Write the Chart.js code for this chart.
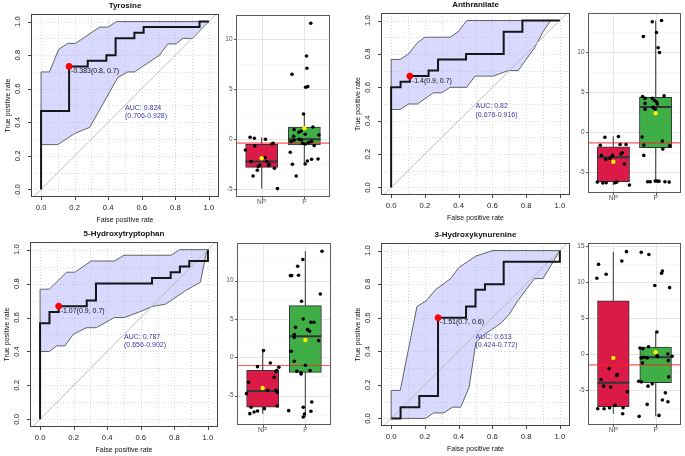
<!DOCTYPE html>
<html><head><meta charset="utf-8">
<script src="https://cdn.jsdelivr.net/npm/chart.js@4.4.0/dist/chart.umd.min.js"></script>
<style>
html,body{margin:0;padding:0;background:#fff;}
#wrap{position:relative;width:685px;height:456px;overflow:hidden;background:#fff;}
canvas{position:absolute;}
</style></head>
<body><div id="wrap"></div>
<script>
// ---------------- DATA ----------------
const titles = ['Tyrosine', 'Anthranilate', '5-Hydroxytryptophan', '3-Hydroxykynurenine'];
const groups = ['NP', 'P'];
const rocTicks = [0, 0.2, 0.4, 0.6, 0.8, 1];
const rocTickLabels = ['0.0', '0.2', '0.4', '0.6', '0.8', '1.0'];
const rocGridVals = [0, 0.1, 0.2, 0.3, 0.4, 0.5, 0.6, 0.7, 0.8, 0.9, 1];
const diagEnds = [-0.2, 1.2];

// Tyrosine
const tyrFpr = [0, 0, 0.167, 0.167, 0.278, 0.278, 0.389, 0.389, 0.444, 0.444, 0.556, 0.556, 0.611, 0.611, 0.944, 0.944, 1];
const tyrTpr = [0, 0.467, 0.467, 0.733, 0.733, 0.767, 0.767, 0.8, 0.8, 0.9, 0.9, 0.933, 0.933, 0.967, 0.967, 1, 1];
const tyrBandX = [0, 0.05, 0.105, 0.159, 0.205, 0.348, 0.398, 0.451, 1, 0.944, 0.905, 0.845, 0.805, 0.755, 0.706, 0.646, 0.557, 0.517, 0.457, 0.29, 0.2, 0.1, 0];
const tyrBandY = [0.7, 0.7, 0.835, 0.87, 0.87, 0.967, 0.967, 1, 1, 0.944, 0.9, 0.9, 0.867, 0.867, 0.8, 0.76, 0.7, 0.7, 0.667, 0.37, 0.333, 0.267, 0.267];
const tyrCut = [0.167, 0.733];
const tyrCutLabel = '-0.383(0.8, 0.7)';
const tyrAuc = ['AUC: 0.824', '(0.706-0.928)'];
const tyrNPy = [-1.07, 0.2, 0.1, -0.67, -2.23, -3.67, -3.1, -2.73, 0.0, -1.83, -2.23, -2.63, -2.5, -0.47, -0.4, -2.9, -4.93, -2.57];
const tyrNPj = [-0.38, -0.27, -0.17, -0.16, -0.25, -0.2, -0.1, -0.08, 0.09, 0.08, 0.12, 0.16, 0.18, 0.24, 0.27, 0.3, 0.37, -0.04];
const tyrPy = [11.6, 7.1, 6.5, 8.33, 5.2, 5.27, 2.53, 1.23, 0.97, -1.3, 0.3, 0.7, 0.83, 0.5, 0.0, -0.07, -0.4, -0.47, -0.33, -0.23, -0.63, 0.43, -0.23, -2.5, -3.67, -2.47, -2.17, -2.0, -1.97, -0.1];
const tyrPj = [0.15, 0.06, -0.29, 0.05, 0.03, 0.08, -0.02, 0.2, -0.24, -0.33, -0.25, -0.13, -0.07, 0.02, -0.12, -0.07, -0.04, 0.02, 0.1, 0.17, 0.23, 0.34, -0.31, -0.28, -0.19, 0.02, 0.07, 0.17, 0.32, -0.24];
// [lower whisker, q1, median, q3, upper whisker, mean]
const tyrBoxNP = [-4.93, -2.8, -2.23, -0.5, 0.2, -1.9];
const tyrBoxP = [-2.5, -0.57, 0.0, 1.23, 2.53, 1.1];
const tyrThr = -0.383;
const tyrYRange = [-5.77, 12.43];

// Anthranilate
const antFpr = [0, 0, 0.056, 0.056, 0.111, 0.111, 0.222, 0.222, 0.278, 0.278, 0.444, 0.444, 0.667, 0.667, 0.778, 0.778, 1];
const antTpr = [0, 0.6, 0.6, 0.633, 0.633, 0.667, 0.667, 0.7, 0.7, 0.767, 0.767, 0.8, 0.8, 0.933, 0.933, 1, 1];
const antBandX = [0, 0.053, 0.103, 0.156, 0.2, 0.349, 0.398, 0.448, 1, 0.945, 0.9, 0.852, 0.753, 0.694, 0.606, 0.497, 0.448, 0.349, 0.3, 0.25, 0.156, 0.103, 0.053, 0];
const antBandY = [0.767, 0.767, 0.8, 0.867, 0.9, 0.9, 0.933, 1, 1, 1, 0.933, 0.84, 0.7, 0.7, 0.667, 0.667, 0.6, 0.6, 0.567, 0.567, 0.5, 0.5, 0.467, 0.467];
const antCut = [0.111, 0.667];
const antCutLabel = '-1.4(0.9, 0.7)';
const antAuc = ['AUC: 0.82', '(0.676-0.916)'];
const antNPy = [-0.7, -0.6, -1.7, -1.6, -1.6, -2.96, -3.46, -3.33, -2.63, -2.8, -4.04, -6.3, -6.4, -6.38, -6.38, -6.3, -6.67, -2.96];
const antNPj = [-0.2, 0.12, -0.31, 0.16, 0.3, -0.28, -0.18, -0.08, 0.21, 0.18, 0.26, -0.38, -0.25, -0.17, 0.04, 0.08, 0.38, -0.02];
const antPy = [13.75, 13.9, 12.4, 11.9, 10.5, 9.9, 4.4, 4.17, 4.17, 4.5, 3.54, 3.9, 3.75, 3.46, 3.04, 2.8, 2.8, -0.67, -1.67, -2.96, -1.17, -2.17, -1.75, -6.25, -6.25, -6.17, -6.17, -6.2, -6.25, -6.3];
const antPj = [-0.08, 0.14, 0.02, -0.29, 0.06, 0.09, -0.31, -0.25, -0.08, 0.2, -0.25, -0.03, 0.02, 0.04, -0.06, -0.25, -0.01, -0.32, -0.28, -0.28, 0.16, 0.17, 0.33, -0.19, -0.13, -0.01, 0.04, 0.08, 0.22, 0.32];
const antBoxNP = [-6.67, -6.25, -3.2, -1.875, -0.6, -3.75];
const antBoxP = [-6.3, -2.0, 3.1, 4.3, 13.9, 2.3];
const antThr = -1.4;
const antYRange = [-7.66, 14.84];

// 5-Hydroxytryptophan
const htpFpr = [0, 0, 0.056, 0.056, 0.111, 0.111, 0.278, 0.278, 0.333, 0.333, 0.667, 0.667, 0.778, 0.778, 0.833, 0.833, 0.889, 0.889, 1, 1];
const htpTpr = [0, 0.567, 0.567, 0.633, 0.633, 0.667, 0.667, 0.7, 0.7, 0.8, 0.8, 0.833, 0.833, 0.867, 0.867, 0.9, 0.9, 0.933, 0.933, 1];
const htpBandX = [0, 0.055, 0.108, 0.157, 0.207, 0.305, 0.443, 0.5, 0.78, 0.83, 1, 0.99, 0.955, 0.866, 0.748, 0.669, 0.591, 0.502, 0.443, 0.335, 0.276, 0.197, 0.148, 0.098, 0.055, 0];
const htpBandY = [0.767, 0.767, 0.818, 0.867, 0.867, 0.933, 0.933, 0.967, 0.967, 1, 1, 0.98, 0.808, 0.758, 0.679, 0.665, 0.633, 0.6, 0.6, 0.54, 0.54, 0.5, 0.433, 0.433, 0.4, 0.4];
const htpCut = [0.111, 0.667];
const htpCutLabel = '-1.07(0.9, 0.7)';
const htpAuc = ['AUC: 0.787', '(0.656-0.902)'];
const htpNPy = [0.87, -0.74, -1.22, -1.3, -1.74, -1.9, -2.6, -3.26, -4.74, -4.3, -4.3, -4.57, -6.35, -6.52, -7.0, -7.13, -7.35, -6.7];
const htpNPj = [0.02, 0.18, -0.12, 0.38, 0.33, 0.31, 0.27, -0.33, -0.38, 0.12, 0.31, 0.34, 0.34, -0.27, -0.12, -0.2, -0.3, 0.04];
const htpPy = [13.83, 12.74, 11.87, 10.7, 10.65, 10.65, 8.26, 7.3, 5.0, 4.57, 4.57, 3.9, 3.6, 3.4, 2.96, 2.6, 2.17, 0.78, -0.52, -1.04, -1.83, -2.04, -2.17, -1.74, -6.96, -6.52, -7.4, -7.78, -7.04, -5.83];
const htpPj = [0.39, -0.06, -0.18, -0.16, -0.35, -0.32, 0.35, -0.09, -0.05, 0.13, 0.2, -0.23, 0.05, 0.1, -0.26, -0.26, 0.31, -0.33, -0.26, 0.0, -0.2, -0.1, -0.1, 0.11, -0.39, -0.05, -0.02, -0.05, 0.13, 0.15];
const htpBoxNP = [-7.35, -6.5, -4.4, -1.7, 0.87, -4.0];
const htpBoxP = [-7.78, -1.96, 2.74, 6.74, 13.83, 2.26];
const htpThr = -1.07;
const htpYRange = [-8.83, 14.9];

// 3-Hydroxykynurenine
const hkFpr = [0, 0.056, 0.056, 0.167, 0.167, 0.278, 0.278, 0.444, 0.444, 0.5, 0.5, 0.556, 0.556, 0.667, 0.667, 1, 1];
const hkTpr = [0, 0, 0.067, 0.067, 0.133, 0.133, 0.6, 0.6, 0.667, 0.667, 0.767, 0.767, 0.8, 0.8, 0.933, 0.933, 1];
const hkBandX = [0, 0.054, 0.153, 0.207, 0.263, 0.353, 0.402, 0.452, 0.502, 0.602, 1, 0.96, 0.9, 0.85, 0.8, 0.75, 0.701, 0.651, 0.602, 0.552, 0.502, 0.462, 0.412, 0.363, 0.313, 0.253, 0.203, 0];
const hkBandY = [0.167, 0.167, 0.667, 0.7, 0.767, 0.833, 0.9, 0.933, 0.967, 1, 1, 0.933, 0.833, 0.833, 0.767, 0.7, 0.622, 0.567, 0.533, 0.5, 0.453, 0.185, 0.067, 0.067, 0.033, 0.033, 0, 0];
const hkCut = [0.278, 0.6];
const hkCutLabel = '-1.51(0.7, 0.6)';
const hkAuc = ['AUC: 0.613', '(0.424-0.772)'];
const hkNPy = [14.2, 12.9, 12.44, 11.06, 10.5, -2.03, -2.86, -3.0, -3.55, -4.47, -4.6, -5.25, -7.14, -7.47, -7.6, -7.6, -7.47, -8.3];
const hkNPj = [0.31, 0.2, -0.35, -0.17, -0.39, -0.1, 0.09, 0.08, -0.29, -0.23, -0.06, 0.33, 0.04, 0.23, -0.37, -0.22, -0.09, 0.22];
const hkPy = [14.1, 13.8, 11.5, 11.2, 9.5, 9.2, 3.04, 1.0, 0.83, 0.74, -0.55, -1.24, -0.55, -0.23, 0.0, -0.32, -0.92, -3.18, -3.78, -3.87, -4.15, -4.47, -5.4, -6.64, -6.4, -7.0, -8.53, -8.66, -0.37, -0.46];
const hkPj = [-0.34, -0.16, 0.16, 0.14, -0.02, 0.33, 0.03, -0.17, -0.37, -0.3, -0.34, -0.31, -0.2, 0.03, 0.29, 0.39, 0.3, 0.31, -0.4, -0.34, -0.08, -0.18, 0.23, 0.29, 0.16, -0.2, 0.08, -0.39, 0.05, -0.28];
const hkBoxNP = [-8.3, -7.33, -4.0, 7.37, 14.2, -0.55];
const hkBoxP = [-8.66, -4.0, -0.46, 0.97, 3.04, 0.23];
const hkThr = -1.51;
const hkYRange = [-9.86, 15.4];

const bpTicks4 = [-5, 0, 5, 10];
const bpTickLabels4 = ['-5', '0', '5', '10'];
const bpMinor4 = [-7.5, -2.5, 2.5, 7.5, 12.5];
const bpTicks5 = [-5, 0, 5, 10, 15];
const bpTickLabels5 = ['-5', '0', '5', '10', '15'];
const bpMinor5 = [-7.5, -2.5, 2.5, 7.5, 12.5];

// ---------------- RENDERING ----------------
const FONT = '"Liberation Sans", Arial, Helvetica, sans-serif';
const FRAMES = {};

const framePlugin = {
  id: 'frame',
  beforeDatasetsDraw(chart) {
    const f = FRAMES[chart.canvas.id]; if (!f) return;
    const ctx = chart.ctx, a = chart.chartArea, sx = chart.scales.x, sy = chart.scales.y;
    ctx.save();
    for (const g of f.grids) {
      ctx.strokeStyle = g.color; ctx.lineWidth = g.width; ctx.setLineDash(g.dash || []);
      ctx.beginPath();
      for (const v of (g.x || [])) {
        if (v < sx.min || v > sx.max) continue;
        const p = Math.round(sx.getPixelForValue(v)) + 0.5; ctx.moveTo(p, a.top); ctx.lineTo(p, a.bottom);
      }
      for (const v of (g.y || [])) {
        if (v < sy.min || v > sy.max) continue;
        const p = Math.round(sy.getPixelForValue(v)) + 0.5; ctx.moveTo(a.left, p); ctx.lineTo(a.right, p);
      }
      ctx.stroke();
    }
    ctx.restore();
  },
  afterDatasetsDraw(chart) {
    const f = FRAMES[chart.canvas.id]; if (!f) return;
    const ctx = chart.ctx, a = chart.chartArea, sx = chart.scales.x, sy = chart.scales.y;
    ctx.save();
    ctx.textBaseline = 'middle';
    for (const t of (f.texts || [])) {
      ctx.font = t.font; ctx.fillStyle = t.color; ctx.textAlign = 'left';
      ctx.fillText(t.text, sx.getPixelForValue(t.x) + t.dx, sy.getPixelForValue(t.y) + t.dy);
    }
    // border
    ctx.setLineDash([]);
    ctx.strokeStyle = f.borderColor; ctx.lineWidth = 1;
    ctx.strokeRect(a.left + 0.5, a.top + 0.5, a.right - a.left - 1, a.bottom - a.top - 1);
    // tick marks
    ctx.strokeStyle = f.tickColor; ctx.beginPath();
    f.xTicks.forEach(v => { const p = Math.round(sx.getPixelForValue(v)) + 0.5; ctx.moveTo(p, a.bottom); ctx.lineTo(p, a.bottom + f.tickLen); });
    f.yTicks.forEach(v => { const p = Math.round(sy.getPixelForValue(v)) + 0.5; ctx.moveTo(a.left, p); ctx.lineTo(a.left - f.tickLen, p); });
    ctx.stroke();
    // tick labels
    ctx.fillStyle = f.labelColor; ctx.font = f.tickFont; ctx.textAlign = 'center';
    f.xTicks.forEach((v, i) => ctx.fillText(f.xLabels[i], sx.getPixelForValue(v), a.bottom + f.xLabelOff));
    f.yTicks.forEach((v, i) => {
      const p = sy.getPixelForValue(v);
      if (f.yRotate) {
        ctx.save(); ctx.translate(a.left - f.yLabelOff, p); ctx.rotate(-Math.PI / 2);
        ctx.textAlign = 'center'; ctx.fillText(f.yLabels[i], 0, 0); ctx.restore();
      } else {
        ctx.textAlign = 'right'; ctx.fillText(f.yLabels[i], a.left - f.yLabelOff, p);
      }
    });
    ctx.fillStyle = '#111';
    if (f.xTitle) {
      ctx.font = f.axisFont; ctx.textAlign = 'center';
      ctx.fillText(f.xTitle, (a.left + a.right) / 2, a.bottom + f.xTitleOff);
    }
    if (f.yTitle) {
      ctx.save(); ctx.font = f.axisFont; ctx.translate(a.left - f.yTitleOff, (a.top + a.bottom) / 2);
      ctx.rotate(-Math.PI / 2); ctx.textAlign = 'center'; ctx.fillText(f.yTitle, 0, 0); ctx.restore();
    }
    if (f.title) {
      ctx.font = f.titleFont; ctx.textAlign = 'center';
      ctx.fillText(f.title, (a.left + a.right) / 2, a.top - f.titleOff);
    }
    ctx.restore();
  }
};
Chart.register(framePlugin);

function makeCanvas(id, r) {
  const c = document.createElement('canvas');
  c.id = id; c.width = r[2]; c.height = r[3];
  c.style.left = r[0] + 'px'; c.style.top = r[1] + 'px';
  c.style.width = r[2] + 'px'; c.style.height = r[3] + 'px';
  document.getElementById('wrap').appendChild(c);
  return c;
}
function padOf(cv, box) {
  return { left: box[0] - cv[0], top: box[1] - cv[1], right: cv[0] + cv[2] - box[2], bottom: cv[1] + cv[3] - box[3] };
}
const zip = (xs, ys) => xs.map((x, i) => ({ x: x, y: ys[i] }));

function rocChart(id, cv, box, p) {
  const canvas = makeCanvas(id, cv);
  const band = zip(p.bandX, p.bandY); band.push(band[0]);
  FRAMES[id] = {
    grids: [{ color: '#d8d8d8', width: 1, dash: [1, 2], x: rocGridVals, y: rocGridVals }],
    texts: [
      { text: p.cutLabel, x: p.cut[0], y: p.cut[1], dx: 2, dy: 4.5, color: '#111', font: '7px ' + FONT },
      { text: p.auc[0], x: 0.5, y: 0.485, dx: 0, dy: 0, color: '#3a3aa8', font: '7px ' + FONT },
      { text: p.auc[1], x: 0.5, y: 0.435, dx: 0, dy: 0, color: '#3a3aa8', font: '7px ' + FONT }
    ],
    borderColor: '#444', tickColor: '#444', tickLen: 3,
    xTicks: rocTicks, xLabels: rocTickLabels, yTicks: rocTicks, yLabels: rocTickLabels,
    yRotate: true, labelColor: '#222', tickFont: '7.7px ' + FONT,
    xLabelOff: 10.7, yLabelOff: 12.7,
    axisFont: '7px ' + FONT, xTitle: 'False positive rate', yTitle: 'True positive rate',
    xTitleOff: 23.5, yTitleOff: 22.5,
    title: p.title, titleFont: 'bold 8px ' + FONT, titleOff: 8
  };
  new Chart(canvas, {
    type: 'scatter',
    data: { datasets: [
      { type: 'line', data: band, fill: 'shape', backgroundColor: 'rgba(170,170,255,0.45)', borderColor: '#555', borderWidth: 0.9, pointRadius: 0, tension: 0, order: 4 },
      { type: 'line', data: zip(diagEnds, diagEnds), borderColor: '#bdbdbd', borderWidth: 1, pointRadius: 0, fill: false, order: 3 },
      { type: 'line', data: zip(p.fpr, p.tpr), borderColor: '#151515', borderWidth: 2, pointRadius: 0, fill: false, tension: 0, order: 2 },
      { type: 'scatter', data: [{ x: p.cut[0], y: p.cut[1] }], pointRadius: 3, pointBackgroundColor: '#ff0000', pointBorderColor: '#ff0000', order: 1 }
    ] },
    options: {
      responsive: false, animation: false, devicePixelRatio: 1,
      layout: { padding: padOf(cv, box) },
      plugins: { legend: { display: false }, tooltip: { enabled: false } },
      events: [],
      scales: {
        x: { type: 'linear', display: false, min: -0.06, max: 1.06 },
        y: { type: 'linear', display: false, min: -0.045, max: 1.045 }
      }
    }
  });
}

function boxChart(id, cv, box, p) {
  const canvas = makeCanvas(id, cv);
  FRAMES[id] = {
    grids: [
      { color: '#f3f3f3', width: 0.7, y: p.minor },
      { color: '#e6e6e6', width: 1, y: p.ticks, x: [1, 2] }
    ],
    texts: [],
    borderColor: '#5a5a5a', tickColor: '#5a5a5a', tickLen: 2,
    xTicks: [1, 2], xLabels: groups, yTicks: p.ticks, yLabels: p.tickLabels,
    yRotate: false, labelColor: '#555', tickFont: '6.5px ' + FONT,
    xLabelOff: 5.5, yLabelOff: 3.5
  };
  const bw = (box[2] - box[0]) * 0.75 / 2.2;
  const ds = [];
  [p.np, p.pp].forEach((b, gi) => {
    const gx = gi + 1;
    ds.push({ type: 'line', data: [{ x: gx, y: b[0] }, { x: gx, y: b[4] }], borderColor: '#555', borderWidth: 1.2, pointRadius: 0, order: 8 });
    ds.push({ type: 'line', data: [{ x: gx - 0.375, y: b[2] }, { x: gx + 0.375, y: b[2] }], borderColor: '#333', borderWidth: 2, pointRadius: 0, order: 5 });
  });
  ds.push({ type: 'bar', data: [{ x: 1, y: [p.np[1], p.np[3]] }, { x: 2, y: [p.pp[1], p.pp[3]] }],
    backgroundColor: ['#dc1a48', '#3fae47'], borderColor: '#333', borderWidth: 1, borderSkipped: false,
    barThickness: bw, order: 6 });
  ds.push({ type: 'line', data: [{ x: 0, y: p.thr }, { x: 3, y: p.thr }], borderColor: 'rgba(255,30,30,0.75)', borderWidth: 1.2, pointRadius: 0, order: 4 });
  const pts = p.npY.map((y, i) => ({ x: 1 + p.npJ[i], y: y })).concat(p.pY.map((y, i) => ({ x: 2 + p.pJ[i], y: y })));
  ds.push({ type: 'scatter', data: pts, pointRadius: 1.8, pointBackgroundColor: '#000', pointBorderColor: '#000', pointBorderWidth: 0, order: 3 });
  ds.push({ type: 'scatter', data: [{ x: 1, y: p.np[5] }, { x: 2, y: p.pp[5] }], pointRadius: 2.2, pointBackgroundColor: '#ffee00', pointBorderColor: '#ffee00', pointBorderWidth: 0, order: 1 });
  new Chart(canvas, {
    type: 'bar',
    data: { datasets: ds },
    options: {
      responsive: false, animation: false, devicePixelRatio: 1,
      layout: { padding: padOf(cv, box) },
      plugins: { legend: { display: false }, tooltip: { enabled: false } },
      events: [],
      scales: {
        x: { type: 'linear', display: false, offset: false, min: 0.4, max: 2.6 },
        y: { type: 'linear', display: false, min: p.range[0], max: p.range[1] }
      }
    }
  });
}

rocChart('roc1', [0, 0, 230, 228], [31, 14, 219, 197],
  { title: titles[0], fpr: tyrFpr, tpr: tyrTpr, bandX: tyrBandX, bandY: tyrBandY, cut: tyrCut, cutLabel: tyrCutLabel, auc: tyrAuc });
rocChart('roc2', [345, 0, 230, 228], [381, 13, 571, 195],
  { title: titles[1], fpr: antFpr, tpr: antTpr, bandX: antBandX, bandY: antBandY, cut: antCut, cutLabel: antCutLabel, auc: antAuc });
rocChart('roc3', [0, 228, 230, 228], [30, 242, 218, 427],
  { title: titles[2], fpr: htpFpr, tpr: htpTpr, bandX: htpBandX, bandY: htpBandY, cut: htpCut, cutLabel: htpCutLabel, auc: htpAuc });
rocChart('roc4', [345, 228, 230, 228], [381, 243, 572, 426],
  { title: titles[3], fpr: hkFpr, tpr: hkTpr, bandX: hkBandX, bandY: hkBandY, cut: hkCut, cutLabel: hkCutLabel, auc: hkAuc });

boxChart('box1', [225, 0, 115, 228], [236, 15, 330, 197],
  { np: tyrBoxNP, pp: tyrBoxP, npY: tyrNPy, npJ: tyrNPj, pY: tyrPy, pJ: tyrPj, thr: tyrThr, range: tyrYRange, ticks: bpTicks4, tickLabels: bpTickLabels4, minor: bpMinor4 });
boxChart('box2', [575, 0, 110, 228], [588, 13, 683, 193],
  { np: antBoxNP, pp: antBoxP, npY: antNPy, npJ: antNPj, pY: antPy, pJ: antPj, thr: antThr, range: antYRange, ticks: bpTicks4, tickLabels: bpTickLabels4, minor: bpMinor4 });
boxChart('box3', [225, 228, 115, 228], [237, 243, 331, 425],
  { np: htpBoxNP, pp: htpBoxP, npY: htpNPy, npJ: htpNPj, pY: htpPy, pJ: htpPj, thr: htpThr, range: htpYRange, ticks: bpTicks4, tickLabels: bpTickLabels4, minor: bpMinor4 });
boxChart('box4', [575, 228, 110, 228], [588, 243, 681, 425],
  { np: hkBoxNP, pp: hkBoxP, npY: hkNPy, npJ: hkNPj, pY: hkPy, pJ: hkPj, thr: hkThr, range: hkYRange, ticks: bpTicks5, tickLabels: bpTickLabels5, minor: bpMinor5 });
</script>
</body></html>
